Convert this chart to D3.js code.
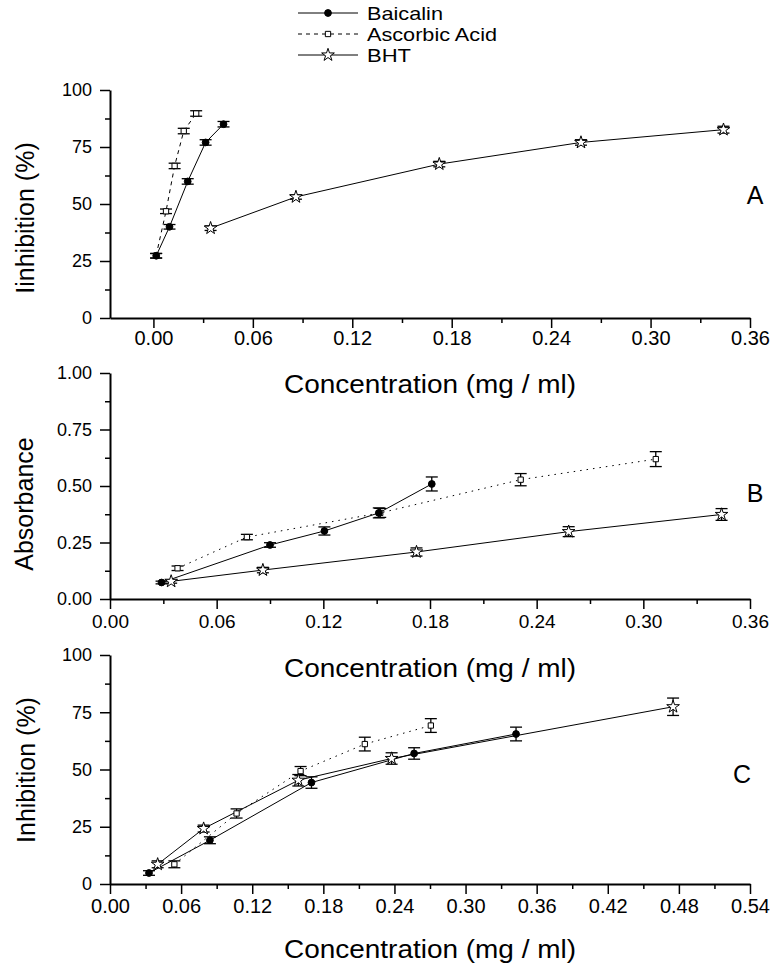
<!DOCTYPE html>
<html><head><meta charset="utf-8">
<script src="https://cdn.jsdelivr.net/npm/d3@7"></script>
<style>
body{margin:0;background:#fff;}
svg{display:block;font-family:"Liberation Sans",Arial,sans-serif;}
</style></head>
<body><svg id="c" width="776" height="964"></svg>
<script>
// ---------- DATA ----------
const seriesNames = ["Baicalin", "Ascorbic Acid", "BHT"];

// Panel A (Inhibition %)
const baicalinA_x = [0.0017, 0.0097, 0.0207, 0.0315, 0.0423];
const baicalinA_y = [27.3, 40.0, 59.9, 77.0, 85.0];
const baicalinA_e = [1.0, 1.0, 1.2, 1.2, 1.2];
const ascorbicA_x = [0.0016, 0.0076, 0.0128, 0.0183, 0.0258];
const ascorbicA_y = [27.3, 46.8, 66.7, 82.0, 89.7];
const ascorbicA_e = [1.0, 1.0, 1.2, 1.2, 1.2];
const bhtA_x = [0.0345, 0.0860, 0.1725, 0.2580, 0.3440];
const bhtA_y = [39.4, 53.1, 67.5, 77.0, 82.6];
const bhtA_e = [1.0, 1.0, 1.2, 1.2, 1.5];

// Panel B (Absorbance)
const baicalinB_x = [0.029, 0.090, 0.1206, 0.1512, 0.181];
const baicalinB_y = [0.073, 0.239, 0.301, 0.381, 0.509];
const baicalinB_e = [0.006, 0.010, 0.018, 0.022, 0.031];
const ascorbicB_x = [0.038, 0.077, 0.152, 0.231, 0.307];
const ascorbicB_y = [0.136, 0.274, 0.381, 0.528, 0.619];
const ascorbicB_e = [0.010, 0.012, 0.020, 0.027, 0.033];
const bhtB_x = [0.0344, 0.086, 0.1724, 0.258, 0.344];
const bhtB_y = [0.078, 0.128, 0.208, 0.298, 0.374];
const bhtB_e = [0.008, 0.012, 0.018, 0.022, 0.026];

// Panel C (Inhibition %)
const baicalinC_x = [0.0329, 0.0843, 0.170, 0.2566, 0.3426];
const baicalinC_y = [4.8, 19.1, 44.3, 57.0, 65.5];
const baicalinC_e = [1.0, 1.5, 2.5, 2.5, 3.0];
const ascorbicC_x = [0.0543, 0.1068, 0.1608, 0.2150, 0.2707];
const ascorbicC_y = [8.6, 30.8, 49.3, 61.1, 69.2];
const ascorbicC_e = [1.5, 2.0, 2.0, 3.0, 3.0];
const bhtC_x = [0.0402, 0.079, 0.1589, 0.2376, 0.4751];
const bhtC_y = [8.6, 24.2, 45.3, 54.8, 77.4];
const bhtC_e = [1.5, 1.5, 2.5, 2.5, 3.8];

// Tick labels
const xTicksAB = [0.00, 0.06, 0.12, 0.18, 0.24, 0.30, 0.36];
const xTicksC = [0.00, 0.06, 0.12, 0.18, 0.24, 0.30, 0.36, 0.42, 0.48, 0.54];
const yTicksInh = [0, 25, 50, 75, 100];
const yTicksAbs = [0.00, 0.25, 0.50, 0.75, 1.00];

// ---------- DRAWING ----------
const svg = d3.select("#c");
const zip = (xs, ys, es) => xs.map((x, i) => ({x, y: ys[i], e: es[i]}));

function mids(arr){ const m=[]; for(let i=0;i<arr.length-1;i++) m.push((arr[i]+arr[i+1])/2); return m; }

function drawPanel(cfg){
  const g = svg.append("g");
  const x = d3.scaleLinear().domain(cfg.xDomain).range([110, 750]);
  const y = d3.scaleLinear().domain(cfg.yDomain).range([cfg.bottom, cfg.top]);

  // minor ticks
  const xMinor = mids(cfg.xTicks);
  const yMinor = mids(cfg.yTicks);
  g.append("g").attr("transform", `translate(0,${cfg.bottom})`)
    .call(d3.axisBottom(x).tickValues(xMinor).tickSize(5).tickSizeOuter(0).tickFormat(""))
    .call(s => s.select(".domain").remove())
    .selectAll("line").attr("stroke-width", 1.5);
  g.append("g").attr("transform", `translate(110,0)`)
    .call(d3.axisLeft(y).tickValues(yMinor).tickSize(5).tickSizeOuter(0).tickFormat(""))
    .call(s => s.select(".domain").remove())
    .selectAll("line").attr("stroke-width", 1.5);

  // major
  const xa = g.append("g").attr("transform", `translate(0,${cfg.bottom})`)
    .call(d3.axisBottom(x).tickValues(cfg.xTicks).tickSize(10).tickSizeOuter(0).tickPadding(cfg.xPad).tickFormat(d3.format(".2f")));
  xa.select(".domain").attr("stroke-width", 2);
  xa.selectAll("line").attr("stroke-width", 1.5);
  xa.selectAll("text").attr("font-size", cfg.xFont).attr("font-family", cfg.xFamily).attr("fill", "#000");

  const ya = g.append("g").attr("transform", `translate(110,0)`)
    .call(d3.axisLeft(y).tickValues(cfg.yTicks).tickSize(10).tickSizeOuter(0).tickPadding(8).tickFormat(cfg.yFmt));
  ya.select(".domain").attr("stroke-width", 2);
  ya.selectAll("line").attr("stroke-width", 1.5);
  ya.selectAll("text").attr("font-size", 18).attr("fill", "#000");

  // titles
  g.append("text").attr("x", 430).attr("y", cfg.xTitleY).attr("text-anchor", "middle")
    .attr("font-size", 25).attr("textLength", 292).attr("lengthAdjust", "spacingAndGlyphs")
    .text("Concentration (mg / ml)");
  g.append("text").attr("transform", `translate(${cfg.yTitleX},${cfg.yTitleCY}) rotate(-90)`)
    .attr("text-anchor", "middle").attr("font-size", 25).text(cfg.yTitle);
  g.append("text").attr("x", cfg.letterX).attr("y", cfg.letterY).attr("text-anchor", "middle")
    .attr("font-size", 25).text(cfg.letter);

  const line = d3.line().x(d => x(d.x)).y(d => y(d.y));
  const plot = g.append("g");
  cfg.series.forEach(s => {
    plot.append("path").attr("d", line(s.data)).attr("fill", "none").attr("stroke", "#000")
      .attr("stroke-width", 1).attr("stroke-dasharray", s.dash);
  });
  cfg.series.forEach(s => {
    const eb = plot.append("g").attr("stroke", "#000").attr("stroke-width", 1.3);
    s.data.forEach(d => {
      const cx = x(d.x), y1 = y(d.y - d.e), y2 = y(d.y + d.e);
      eb.append("line").attr("x1", cx).attr("x2", cx).attr("y1", y1).attr("y2", y2);
      eb.append("line").attr("x1", cx - 6).attr("x2", cx + 6).attr("y1", y1).attr("y2", y1);
      eb.append("line").attr("x1", cx - 6).attr("x2", cx + 6).attr("y1", y2).attr("y2", y2);
    });
  });
  cfg.series.forEach(s => {
    plot.selectAll(null).data(s.data).join("path")
      .attr("transform", d => `translate(${x(d.x)},${y(d.y)})`)
      .attr("d", d3.symbol().type(s.sym.type).size(s.sym.size))
      .attr("fill", s.sym.fill).attr("stroke", "#000").attr("stroke-width", 1);
  });
}

const symB = {type: d3.symbolCircle, size: 36, fill: "#000"};
const symA = {type: d3.symbolSquare, size: 28, fill: "#fff"};
const symH = {type: d3.symbolStar, size: 50, fill: "#fff"};

drawPanel({
  xDomain: [-0.0262, 0.36], yDomain: [0, 100], top: 90, bottom: 318,
  xTicks: xTicksAB, yTicks: yTicksInh, yFmt: d3.format("d"),
  xFont: 20, xPad: 3, xFamily: "Liberation Sans Narrow, Liberation Sans, sans-serif",
  xTitleY: 393, yTitle: "Iinhibition (%)", yTitleX: 34, yTitleCY: 218,
  letter: "A", letterX: 755, letterY: 204,
  series: [
    {data: zip(ascorbicA_x, ascorbicA_y, ascorbicA_e), dash: "4,4", sym: symA},
    {data: zip(baicalinA_x, baicalinA_y, baicalinA_e), dash: null, sym: symB},
    {data: zip(bhtA_x, bhtA_y, bhtA_e), dash: null, sym: symH}
  ]
});

drawPanel({
  xDomain: [0, 0.36], yDomain: [0, 1], top: 373, bottom: 599,
  xTicks: xTicksAB, yTicks: yTicksAbs, yFmt: d3.format(".2f"),
  xFont: 19, xPad: 6, xFamily: "Liberation Sans, sans-serif",
  xTitleY: 677, yTitle: "Absorbance", yTitleX: 33, yTitleCY: 504,
  letter: "B", letterX: 755, letterY: 502,
  series: [
    {data: zip(ascorbicB_x, ascorbicB_y, ascorbicB_e), dash: "1.5,5", sym: symA},
    {data: zip(baicalinB_x, baicalinB_y, baicalinB_e), dash: null, sym: symB},
    {data: zip(bhtB_x, bhtB_y, bhtB_e), dash: null, sym: symH}
  ]
});

drawPanel({
  xDomain: [0, 0.54], yDomain: [0, 100], top: 655, bottom: 884,
  xTicks: xTicksC, yTicks: yTicksInh, yFmt: d3.format("d"),
  xFont: 20, xPad: 5, xFamily: "Liberation Sans Narrow, Liberation Sans, sans-serif",
  xTitleY: 958, yTitle: "Inhibition (%)", yTitleX: 35, yTitleCY: 770,
  letter: "C", letterX: 742, letterY: 783,
  series: [
    {data: zip(ascorbicC_x, ascorbicC_y, ascorbicC_e), dash: "1.5,5", sym: symA},
    {data: zip(baicalinC_x, baicalinC_y, baicalinC_e), dash: null, sym: symB},
    {data: zip(bhtC_x, bhtC_y, bhtC_e), dash: null, sym: symH}
  ]
});

// Legend
const legY = [13, 34, 55];
const legDash = [null, "4,4", null];
const legSym = [symB, symA, symH];
const legLen = [76, 130, 44];
const leg = svg.append("g");
seriesNames.forEach((n, i) => {
  leg.append("line").attr("x1", 298).attr("x2", 358).attr("y1", legY[i]).attr("y2", legY[i])
    .attr("stroke", "#000").attr("stroke-width", 1).attr("stroke-dasharray", legDash[i]);
  leg.append("path").attr("transform", `translate(328,${legY[i]})`)
    .attr("d", d3.symbol().type(legSym[i].type).size(legSym[i].size))
    .attr("fill", legSym[i].fill).attr("stroke", "#000");
  leg.append("text").attr("x", 367).attr("y", legY[i] + 7).attr("font-size", 19)
    .attr("textLength", legLen[i]).attr("lengthAdjust", "spacingAndGlyphs").text(n);
});
</script></body></html>
